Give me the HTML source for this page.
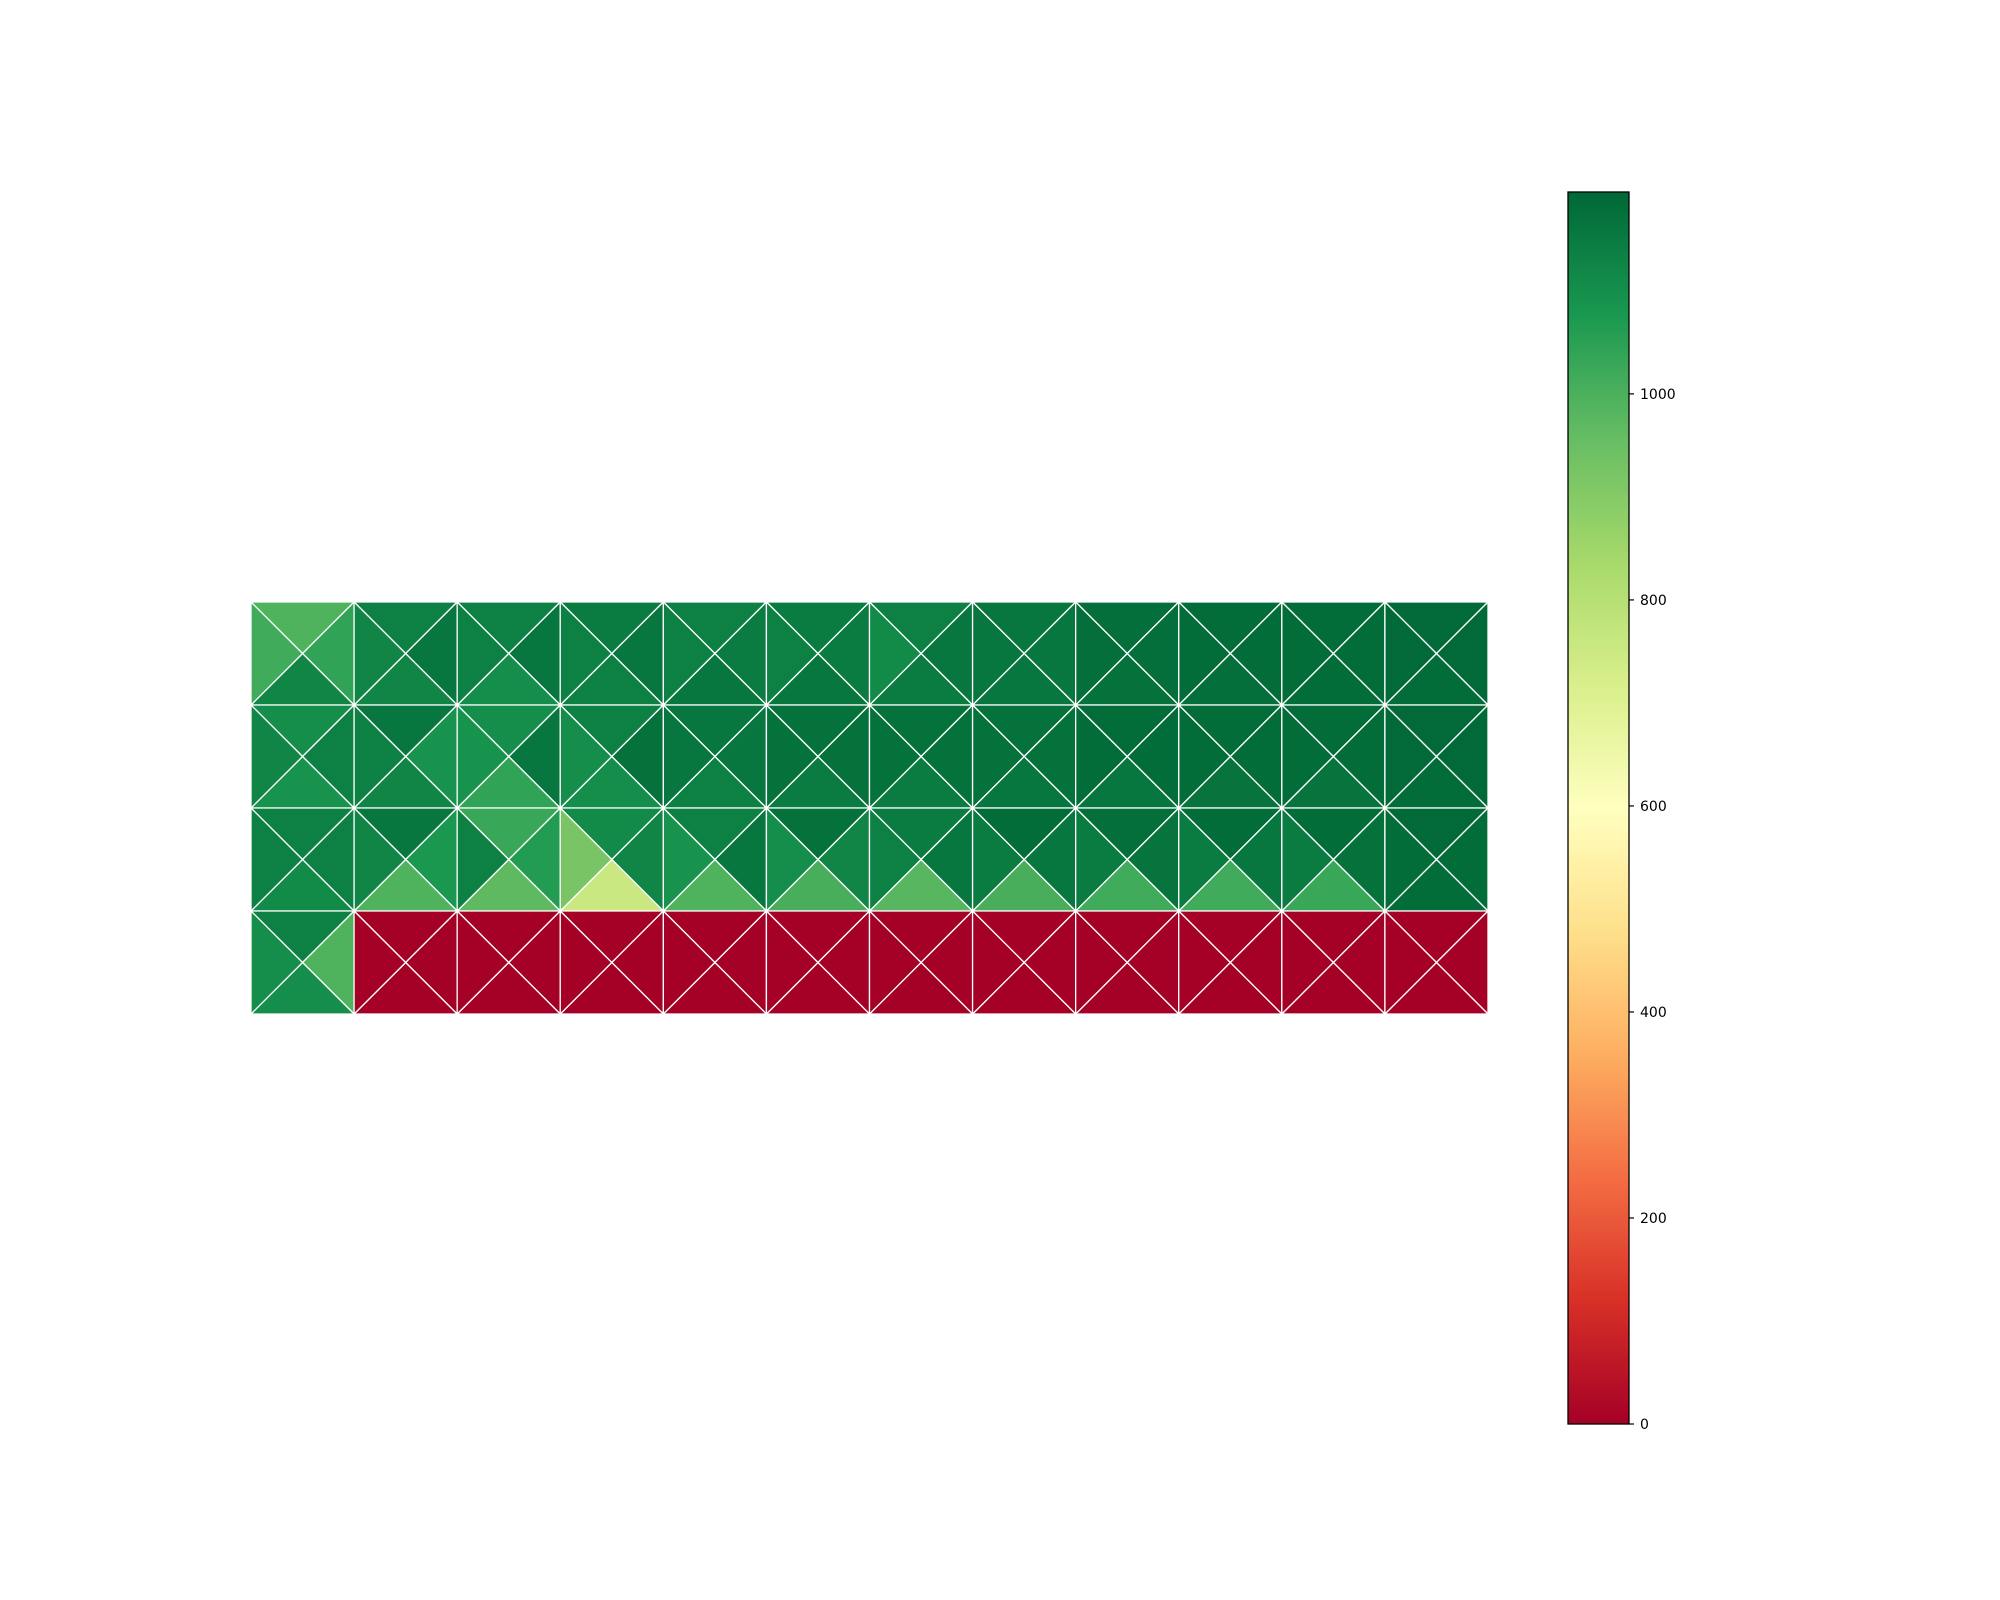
<!DOCTYPE html>
<html><head><meta charset="utf-8"><style>
html,body{margin:0;padding:0;background:#fff;}
svg{display:block;font-family:"DejaVu Sans","Liberation Sans",sans-serif;}
</style></head><body>
<svg id="chart" width="2000" height="1600" viewBox="0 0 2000 1600" xmlns="http://www.w3.org/2000/svg">
<defs><linearGradient id="cbgrad" x1="0" y1="1" x2="0" y2="0"></linearGradient></defs>
<g id="cells"></g>
<g id="cbar"></g>
</svg>
<script>
// Data: value fractions of the maximum (vmax) for each cell's top/right/bottom/left triangle, row by row
const vmax = 1196;
const rowLabels = [0,1,2,3];
const colLabels = [0,1,2,3,4,5,6,7,8,9,10,11];
const topVals = [
 [.83,.95,.95,.96,.95,.96,.95,.97,.985,.99,.99,.995],
 [.92,.97,.92,.95,.97,.98,.98,.98,.99,.99,.99,.995],
 [.95,.97,.86,.93,.95,.98,.96,.99,.985,.99,.99,.995],
 [.95,0,0,0,0,0,0,0,0,0,0,0]];
const rightVals = [
 [.87,.97,.97,.97,.96,.96,.97,.97,.985,.99,.99,.995],
 [.95,.91,.97,.98,.97,.98,.98,.98,.99,.99,.99,.995],
 [.95,.90,.89,.94,.97,.94,.97,.97,.975,.97,.98,.99],
 [.83,0,0,0,0,0,0,0,0,0,0,0]];
const bottomVals = [
 [.94,.94,.92,.95,.97,.97,.96,.97,.98,.985,.99,.99],
 [.91,.94,.87,.92,.95,.96,.96,.97,.97,.975,.975,.99],
 [.93,.83,.81,.63,.83,.84,.82,.84,.85,.85,.86,.99],
 [.92,0,0,0,0,0,0,0,0,0,0,0]];
const leftVals = [
 [.85,.94,.95,.95,.95,.95,.93,.97,.985,.99,.99,.995],
 [.94,.95,.91,.92,.97,.98,.98,.98,.99,.99,.99,.995],
 [.95,.94,.95,.77,.91,.92,.95,.96,.96,.96,.96,.99],
 [.92,0,0,0,0,0,0,0,0,0,0,0]];
const cbTicks = [0,200,400,600,800,1000];

const stops = ["#a50026","#d73027","#f46d43","#fdae61","#fee08b","#ffffbf","#d9ef8b","#a6d96a","#66bd63","#1a9850","#006837"];
function hex(c){return [1,3,5].map(i=>parseInt(c.substr(i,2),16));}
function cmap(t){t=Math.max(0,Math.min(1,t));const p=t*10,i=Math.min(9,Math.floor(p)),f=p-i;
 const a=hex(stops[i]),b=hex(stops[i+1]);return "rgb("+a.map((v,k)=>Math.round(v+(b[k]-v)*f)).join(",")+")";}

const X0=251,X1=1488,Y0=602,Y1=1014;
const cw=(X1-X0)/colLabels.length, rh=(Y1-Y0)/rowLabels.length;
const xs=c=>X0+c*cw, ys=r=>Y0+r*rh;
const NS="http://www.w3.org/2000/svg";
const g=document.getElementById("cells");
const sides=["top","right","bottom","left"];
const sets=[topVals,rightVals,bottomVals,leftVals];
rowLabels.forEach((r,ri)=>colLabels.forEach((c,ci)=>{
 const x=xs(ci),y=ys(ri),cx=x+cw/2,cy=y+rh/2;
 const corners=[[x,y],[x+cw,y],[x+cw,y+rh],[x,y+rh]];
 sides.forEach((s,k)=>{
  const a=corners[k],b=corners[(k+1)%4];
  const p=document.createElementNS(NS,"polygon");
  p.setAttribute("points",`${a[0]},${a[1]} ${b[0]},${b[1]} ${cx},${cy}`);
  p.setAttribute("fill",cmap(sets[k][ri][ci]));
  p.setAttribute("stroke","#fff");p.setAttribute("stroke-width","1.3");
  
  
  g.appendChild(p);
 });
}));

// colorbar
const CX=1568,CW=61,CT=192,CB=1424;
const cy=v=>CB-(v/vmax)*(CB-CT);
const grad=document.getElementById("cbgrad");
for(let i=0;i<=20;i++){const st=document.createElementNS(NS,"stop");
 st.setAttribute("offset",(i/20));st.setAttribute("stop-color",cmap(i/20));grad.appendChild(st);}
const cb=document.getElementById("cbar");
const rect=document.createElementNS(NS,"rect");
rect.setAttribute("x",CX);rect.setAttribute("y",CT);rect.setAttribute("width",CW);rect.setAttribute("height",CB-CT);
rect.setAttribute("fill","url(#cbgrad)");rect.setAttribute("stroke","#000");rect.setAttribute("stroke-width","1.3");


cb.appendChild(rect);
cbTicks.forEach(v=>{
 const y=cy(v);
 const l=document.createElementNS(NS,"line");
 l.setAttribute("x1",CX+CW);l.setAttribute("x2",CX+CW+5);l.setAttribute("y1",y);l.setAttribute("y2",y);
 l.setAttribute("stroke","#000");l.setAttribute("stroke-width","1.2");
 
 
 cb.appendChild(l);
 const t=document.createElementNS(NS,"text");
 t.setAttribute("x",CX+CW+11);t.setAttribute("y",y+5);t.setAttribute("font-size","14");t.setAttribute("fill","#000");
 t.textContent=v;
 
 
 cb.appendChild(t);
});
</script>
</body></html>
